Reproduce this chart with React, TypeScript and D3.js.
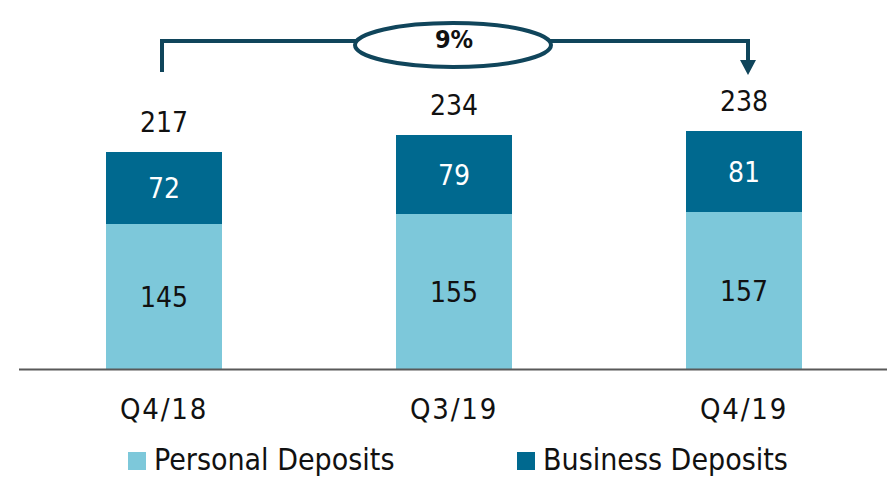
import React from "react";
import * as d3 from "d3";

const categories = ["Q4/18", "Q3/19", "Q4/19"];
const personal = [145, 155, 157];
const business = [72, 79, 81];
const totals = [217, 234, 238];
const seriesNames = ["Personal Deposits", "Business Deposits"];
const growthLabel = "9%";

const W = 887;
const H = 478;
const LIGHT = "#7DC8DA";
const DARK = "#00698F";
const ARROW = "#10455B";
const FONT = "'DejaVu Sans Condensed', 'DejaVu Sans', sans-serif";

export default function App() {
  const x = d3
    .scaleBand<string>()
    .domain(categories)
    .range([19, 889])
    .paddingInner(0.6)
    .paddingOuter(0.3);
  const y = d3.scaleLinear().domain([0, 369]).range([369, 0]);
  const bw = x.bandwidth();

  const stacked = d3
    .stack<any>()
    .keys(["personal", "business"])(
      categories.map((c, i) => ({ cat: c, personal: personal[i], business: business[i] }))
    );

  const firstCx = x(categories[0])! + bw / 2;
  const lastCx = x(categories[categories.length - 1])! + bw / 2;
  const arrowY = 41;
  const ellCx = x(categories[1])! + bw / 2;

  return (
    <svg
      width={W}
      height={H}
      style={{ position: "absolute", left: 0, top: 0, display: "block", fontFamily: FONT }}
    >
      <rect width={W} height={H} fill="#fff" />
      {stacked.map((layer, li) =>
        layer.map((d, i) => {
          const x0 = x(categories[i])!;
          const top = y(d[1]);
          const bot = y(d[0]);
          return (
            <g key={`${li}-${i}`}>
              <rect x={x0} y={top} width={bw} height={bot - top} fill={li === 0 ? LIGHT : DARK} />
              <text
                x={x0 + bw / 2}
                y={(top + bot) / 2}
                dy="0.36em"
                textAnchor="middle"
                fontSize={28}
                fill={li === 0 ? "#111" : "#fff"}
              >
                {li === 0 ? personal[i] : business[i]}
              </text>
            </g>
          );
        })
      )}
      {totals.map((t, i) => (
        <text
          key={`t${i}`}
          x={x(categories[i])! + bw / 2}
          y={y(t) - 20}
          textAnchor="middle"
          fontSize={28}
          fill="#111"
        >
          {t}
        </text>
      ))}
      <line x1={19} x2={887} y1={369.5} y2={369.5} stroke="#595959" strokeWidth={2} />
      {categories.map((c) => (
        <text
          key={c}
          x={x(c)! + bw / 2}
          y={419}
          textAnchor="middle"
          fontSize={29}
          letterSpacing={1.8}
          fill="#111"
        >
          {c}
        </text>
      ))}
      {/* growth arrow */}
      <path
        d={`M${firstCx - 2},72 L${firstCx - 2},${arrowY} L${lastCx + 4},${arrowY} L${lastCx + 4},62`}
        fill="none"
        stroke={ARROW}
        strokeWidth={4}
      />
      <path d={`M${lastCx + 4 - 8},60 L${lastCx + 4 + 8},60 L${lastCx + 4},75 Z`} fill={ARROW} />
      <ellipse cx={ellCx - 1} cy={45} rx={98} ry={22} fill="#fff" stroke={ARROW} strokeWidth={4} />
      <text
        x={ellCx}
        y={39}
        dy="0.36em"
        textAnchor="middle"
        fontSize={25}
        fontWeight="bold"
        fill="#111"
      >
        {growthLabel}
      </text>
      {/* legend */}
      {seriesNames.map((n, i) => {
        const lx = i === 0 ? 128 : 517;
        return (
          <g key={n}>
            <rect x={lx} y={452} width={18} height={18} fill={i === 0 ? LIGHT : DARK} />
            <text x={lx + 26} y={470} fontSize={30} fill="#111">
              {n}
            </text>
          </g>
        );
      })}
    </svg>
  );
}
